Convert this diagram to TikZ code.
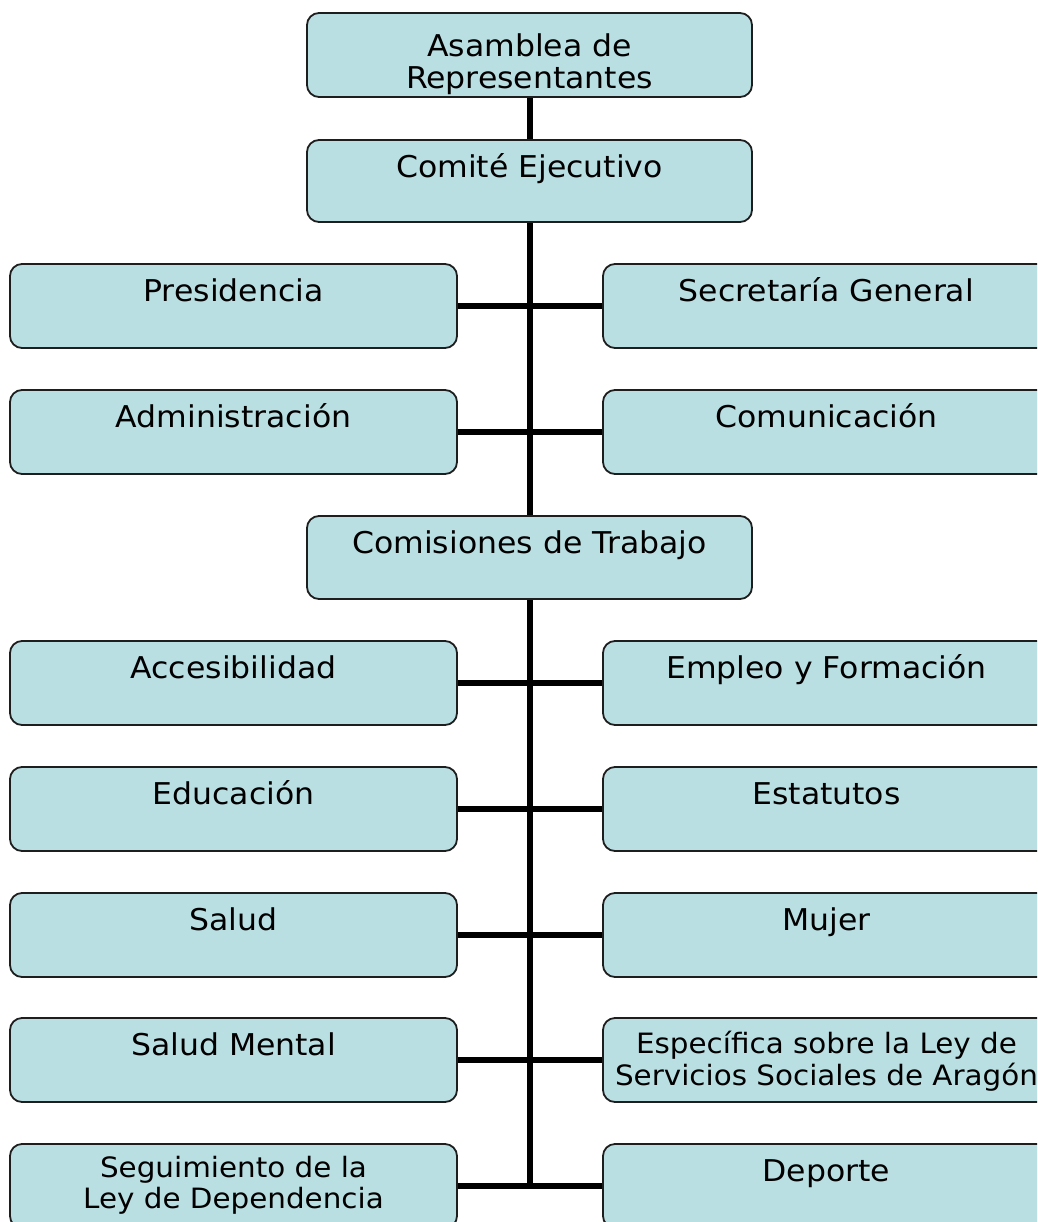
\documentclass[tikz,border=0pt]{standalone}
\usepackage{fontspec}
\setmainfont{DejaVu Sans}[FakeStretch=1.05]
\definecolor{boxfill}{RGB}{185,223,227}
\definecolor{boxline}{RGB}{30,30,30}
\pgfdeclarelayer{bg}
\pgfsetlayers{bg,main}
\begin{document}
\begin{tikzpicture}[x=1pt,y=-1pt,
  box/.style={draw=boxline, line width=1.8pt, fill=boxfill, rounded corners=12pt,
              minimum width=447pt, minimum height=84pt, inner sep=0pt},
  topbox/.style={box, minimum width=445pt},
  lbl/.style={anchor=base, inner sep=0pt, align=center, font=\fontsize{30}{31}\selectfont},
  conn/.style={line width=6pt, line cap=rect, draw=black}]
\useasboundingbox (0,0) rectangle (1037,1222);
\clip (0,0) rectangle (1037,1222);

% central column
\node[topbox] (asam) at (529.5,55) {};
\node[topbox, minimum height=82pt] (comite) at (529.5,181) {};
\node[topbox, minimum height=83pt] (comis) at (529.5,557.5) {};

% left column
\node[box] (pres)    at (233.5,306)  {};
\node[box] (admin)   at (233.5,432)  {};
\node[box] (acces)   at (233.5,683)  {};
\node[box] (educ)    at (233.5,809)  {};
\node[box] (salud)   at (233.5,935)  {};
\node[box] (smental) at (233.5,1060) {};
\node[box] (seg)     at (233.5,1186) {};

% right column
\node[box] (secr)    at (826.5,306)  {};
\node[box] (comu)    at (826.5,432)  {};
\node[box] (empleo)  at (826.5,683)  {};
\node[box] (estat)   at (826.5,809)  {};
\node[box] (mujer)   at (826.5,935)  {};
\node[box] (espec)   at (826.5,1060) {};
\node[box] (deporte) at (826.5,1186) {};

% labels (for two-line labels the base anchor is the last line's baseline)
\node[lbl, font=\fontsize{30}{32}\selectfont] (tasam) at ([yshift=-76pt]asam.north) {Asamblea de\\Representantes};
\node[lbl] (tcomite) at ([yshift=-38pt]comite.north) {Comité Ejecutivo};
\node[lbl] (tcomis)  at ([yshift=-38pt]comis.north)  {Comisiones de Trabajo};

\node[lbl] (tpres)    at ([yshift=-38pt]pres.north)    {Presidencia};
\node[lbl] (tadmin)   at ([yshift=-38pt]admin.north)   {Administración};
\node[lbl] (tacces)   at ([yshift=-38pt]acces.north)   {Accesibilidad};
\node[lbl] (teduc)    at ([yshift=-38pt]educ.north)    {Educación};
\node[lbl] (tsalud)   at ([yshift=-38pt]salud.north)   {Salud};
\node[lbl] (tsmental) at ([yshift=-38pt]smental.north) {Salud Mental};
\node[lbl, font=\fontsize{28}{31}\selectfont] (tseg) at ([yshift=-65pt]seg.north) {Seguimiento de la\\Ley de Dependencia};

\node[lbl] (tsecr)    at ([yshift=-38pt]secr.north)    {Secretaría General};
\node[lbl] (tcomu)    at ([yshift=-38pt]comu.north)    {Comunicación};
\node[lbl] (templeo)  at ([yshift=-38pt]empleo.north)  {Empleo y Formación};
\node[lbl] (testat)   at ([yshift=-38pt]estat.north)   {Estatutos};
\node[lbl] (tmujer)   at ([yshift=-38pt]mujer.north)   {Mujer};
\node[lbl, font=\fontsize{28}{32}\selectfont] (tespec) at ([yshift=-68pt]espec.north) {Específica sobre la Ley de\\Servicios Sociales de Aragón};
\node[lbl] (tdeporte) at ([yshift=-38pt]deporte.north) {Deporte};

% connectors
\begin{pgfonlayer}{bg}
\draw[conn] (asam.south) -- (comite.north);
\draw[conn] (comite.south) -- (comis.north);
\draw[conn] (comis.south) -- (comis.south |- seg.east);
\foreach \l/\r in {pres/secr, admin/comu, acces/empleo, educ/estat, salud/mujer, smental/espec, seg/deporte}
  \draw[conn] (\l.east) -- (\r.west);
\end{pgfonlayer}
\end{tikzpicture}
\end{document}
